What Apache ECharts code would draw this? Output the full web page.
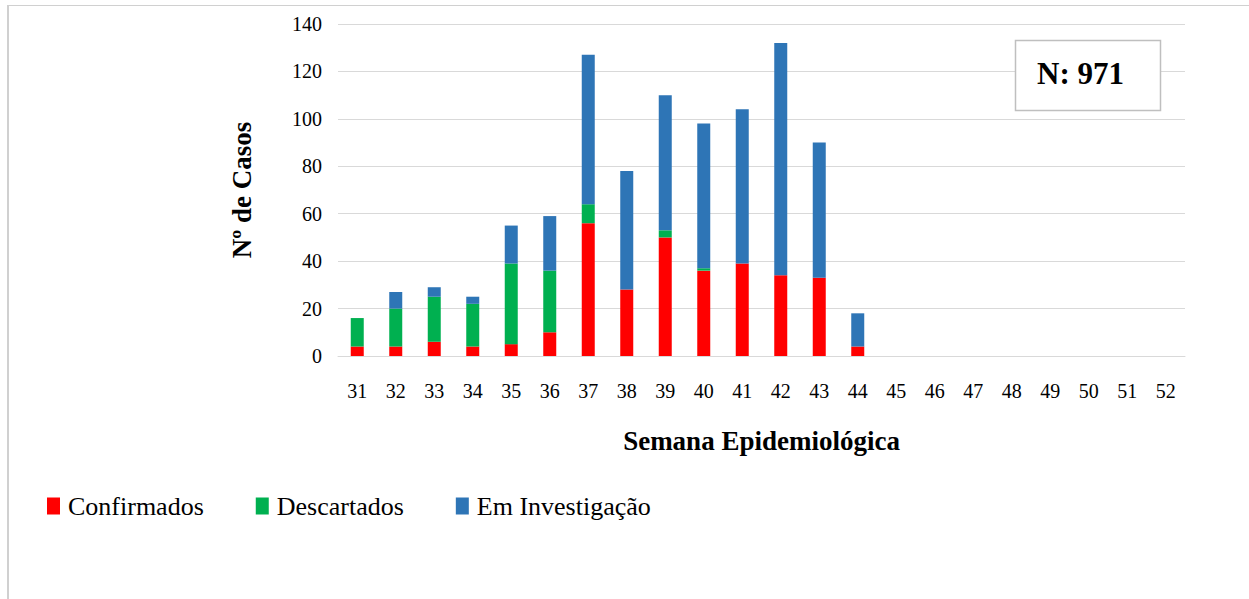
<!DOCTYPE html>
<html>
<head>
<meta charset="utf-8">
<script src="https://cdn.jsdelivr.net/npm/echarts@6/dist/echarts.min.js"></script>
<style>
  html, body { margin: 0; padding: 0; background: #fff; }
  #chart { width: 1249px; height: 599px; }
</style>
</head>
<body>
<div id="chart"></div>
<script>
var weeks = ['31', '32', '33', '34', '35', '36', '37', '38', '39', '40', '41',
             '42', '43', '44', '45', '46', '47', '48', '49', '50', '51', '52'];
var confirmados = [4, 4, 6, 4, 5, 10, 56, 28, 50, 36, 39, 34, 33, 4, 0, 0, 0, 0, 0, 0, 0, 0];
var descartados = [12, 16, 19, 18, 34, 26, 8, 0, 3, 1, 0, 0, 0, 0, 0, 0, 0, 0, 0, 0, 0, 0];
var investigacao = [0, 7, 4, 3, 16, 23, 63, 50, 57, 61, 65, 98, 57, 14, 0, 0, 0, 0, 0, 0, 0, 0];
var totalLabel = 'N: 971';

var serif = 'Liberation Serif';
var plain = 'Times New Roman, serif';
var grid = '#d9d9d9';

var chart = echarts.init(document.getElementById('chart'), null, { renderer: 'svg' });
chart.setOption({
  animation: false,
  textStyle: { fontFamily: plain, color: '#000' },
  grid: { left: 338, right: 64, top: 24, bottom: 243 },
  legend: {
    left: 42,
    top: 488,
    itemWidth: 13,
    itemHeight: 17,
    itemGap: 52,
    icon: 'rect',
    textStyle: { fontFamily: plain, fontSize: 26, color: '#000', padding: [0, 0, 0, 3] },
    data: ['Confirmados', 'Descartados', 'Em Investigação']
  },
  xAxis: {
    type: 'category',
    data: weeks,
    name: 'Semana Epidemiológica',
    nameLocation: 'middle',
    nameGap: 71,
    nameTextStyle: { fontFamily: serif, fontSize: 27, fontWeight: 'bold', color: '#000' },
    axisLine: { lineStyle: { color: grid, width: 1 } },
    axisTick: { show: false },
    axisLabel: { fontFamily: plain, fontSize: 20, color: '#000', margin: 25 }
  },
  yAxis: {
    type: 'value',
    min: 0,
    max: 140,
    interval: 20,
    name: 'Nº de Casos',
    nameLocation: 'middle',
    nameGap: 83,
    nameTextStyle: { fontFamily: serif, fontSize: 27, fontWeight: 'bold', color: '#000' },
    axisLine: { show: false },
    axisTick: { show: false },
    splitLine: { lineStyle: { color: grid, width: 1 } },
    axisLabel: { fontFamily: plain, fontSize: 20, color: '#000', margin: 16 }
  },
  series: [
    {
      name: 'Confirmados',
      type: 'bar',
      stack: 'casos',
      barWidth: 13,
      data: confirmados,
      itemStyle: { color: '#ff0000' }
    },
    {
      name: 'Descartados',
      type: 'bar',
      stack: 'casos',
      barWidth: 13,
      data: descartados,
      itemStyle: { color: '#00b050' }
    },
    {
      name: 'Em Investigação',
      type: 'bar',
      stack: 'casos',
      barWidth: 13,
      data: investigacao,
      itemStyle: { color: '#2e75b6' }
    }
  ],
  graphic: [
    {
      type: 'line',
      shape: { x1: 8, y1: 5.5, x2: 1249, y2: 5.5 },
      style: { stroke: '#d0d0d0', lineWidth: 1 }
    },
    {
      type: 'line',
      shape: { x1: 8, y1: 5, x2: 8, y2: 599 },
      style: { stroke: '#d0d0d0', lineWidth: 2 }
    },
    {
      type: 'rect',
      shape: { x: 1015.5, y: 40.5, width: 145, height: 70 },
      style: { fill: '#fff', stroke: '#bfbfbf', lineWidth: 1.5 },
      z: 10
    },
    {
      type: 'text',
      x: 1037,
      y: 73,
      style: {
        text: totalLabel,
        font: 'bold 31px ' + serif,
        fill: '#000',
        verticalAlign: 'middle'
      },
      z: 11
    }
  ]
});
</script>
</body>
</html>
